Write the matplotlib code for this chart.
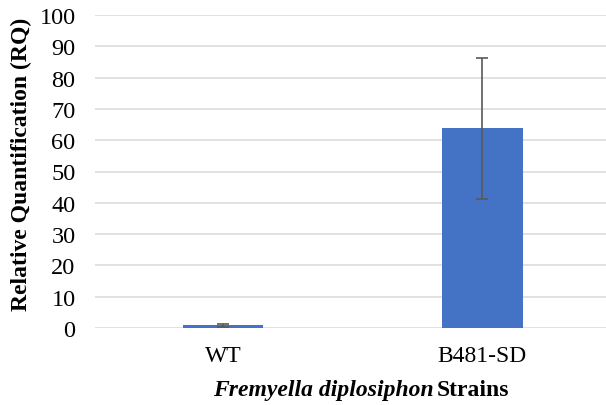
import matplotlib.pyplot as plt
import numpy as np

strains = ['WT', 'B481-SD']
rq_mean = [0.8, 63.8]
rq_err = [0.5, 22.6]
yticks = list(range(0, 101, 10))

plt.rcParams['font.family'] = ['Liberation Serif', 'DejaVu Serif']

fig = plt.figure(figsize=(6.06, 4.06), dpi=100)
ax = fig.add_axes([95 / 606, 1 - 329 / 406, 1 - 95 / 606, (329 - 16) / 406])

x = np.arange(len(strains))
ax.bar(x, rq_mean, width=0.31, color='#4472C4', zorder=3)
ax.errorbar(x, rq_mean, yerr=rq_err, fmt='none', ecolor='#595959',
            elinewidth=1.2, capsize=4.5, capthick=1.2, zorder=4)

ax.set_xlim(-0.493, 1.476)
ax.set_ylim(0, 100)
ax.set_yticks(yticks)
ax.set_xticks(x)
ax.set_xticklabels(strains, fontsize=17)
ax.tick_params(axis='y', labelsize=17.5, length=0, pad=14)
ax.tick_params(axis='x', length=0, pad=12)
ax.grid(axis='y', color='#D9D9D9', linewidth=1.1, zorder=0)
for s in ax.spines.values():
    s.set_visible(False)

ax.set_ylabel('Relative Quantification (RQ)', fontsize=17, fontweight='bold',
              labelpad=5, y=0.525)

# x axis title: italic species name followed by plain bold word
fig.text(434 / 606, 1 - 391 / 406, 'Fremyella diplosiphon', fontsize=17,
         fontweight='bold', fontstyle='italic', ha='right', va='center')
fig.text(437 / 606, 1 - 391 / 406, 'Strains', fontsize=17,
         fontweight='bold', ha='left', va='center')

fig.savefig('out.png', dpi=100)
